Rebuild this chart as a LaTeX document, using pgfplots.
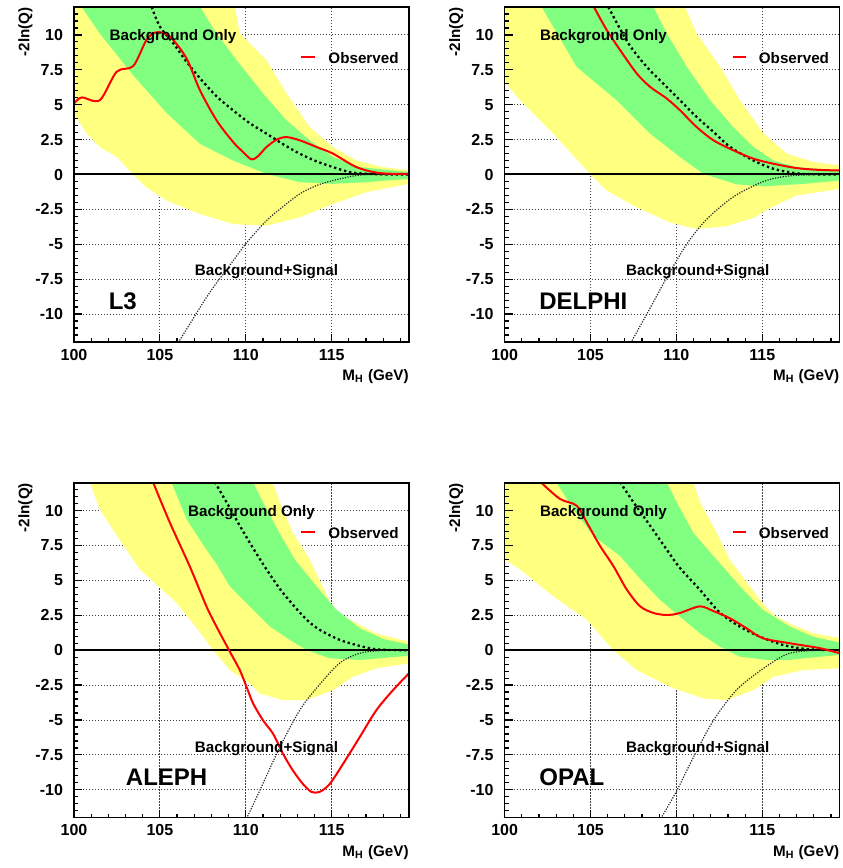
\documentclass[border=0pt]{standalone}
\usepackage{fontspec}
\setmainfont{Liberation Sans}
\usepackage{pgfplots}
\pgfplotsset{compat=1.18}
\definecolor{bandone}{RGB}{128,255,128}
\definecolor{bandtwo}{RGB}{255,255,128}
\definecolor{obsred}{RGB}{255,0,0}
\newcommand\tfont{\fontsize{7.6}{9}\selectfont\bfseries}
\newcommand\kfont{\fontsize{8}{9.5}\selectfont\bfseries}
\newcommand\efont{\fontsize{12}{14}\selectfont\bfseries}
\tikzset{gridst/.style={black!75, line width=0.45pt, dash pattern=on 0.6pt off 0.9pt}}
\newcommand\lepgrid{%
 \pgfplotsinvokeforeach{105,110,115}{\draw[gridst] (axis cs:##1,-12) -- (axis cs:##1,12);}%
 \pgfplotsinvokeforeach{-10,-7.5,-5,-2.5,2.5,5,7.5,10}{\draw[gridst] (axis cs:100,##1) -- (axis cs:119.5,##1);}%
}
\pgfplotsset{
 lep/.style={
  scale only axis, width=167.5pt, height=167.5pt,
  xmin=100, xmax=119.5, ymin=-12, ymax=12,
  xtick={100,105,110,115}, xticklabels={100,105,110,115},
  ytick={-10,-7.5,-5,-2.5,0,2.5,5,7.5,10},
  yticklabels={-10,-7.5,-5,-2.5,0,2.5,5,7.5,10},
  minor xtick={100,...,119},
  minor ytick={-12,-11.5,...,12},
  tick align=inside, tick pos=left,
  major tick length=4pt, minor tick length=2pt,
  tick style={black, line width=0.6pt},
  axis on top,
  axis line style={line width=0.8pt},
  tick label style={font=\kfont},
  yticklabel style={xshift=-2pt},
 },
 ybandst/.style={fill=bandtwo, draw=none},
 gbandst/.style={fill=bandone, draw=none},
 bexp/.style={black, line width=1.15pt, line cap=butt, dash pattern=on 1.15pt off 1.45pt, smooth},
 sbexp/.style={black!85, line width=0.6pt, line cap=butt, dash pattern=on 0.6pt off 0.7pt, smooth},
 obs/.style={obsred, line width=1pt, smooth, tension=0.5},
 zline/.style={black, line width=1pt},
}
\begin{document}
\begin{tikzpicture}
\path[use as bounding box] (0,0) rectangle (421pt,434pt);

%================ L3 =================
\begin{axis}[lep, name=lthree, at={(37pt,263pt)}, anchor=south west]
\lepgrid
\addplot[ybandst] coordinates {(100,13) (109.36,13) (109.36,12) (109.65,10.1) (111.2,8.2) (112.37,5.8) (113.72,3.4) (115.08,1.96) (116.44,1.0) (117.98,0.53) (119.5,0.3)
 (119.5,-0.67) (117.0,-1.27) (115.08,-2.11) (113.14,-3.07) (111.2,-3.67) (109.26,-3.55) (107.33,-2.83) (105.4,-1.87) (104.2,-0.91) (103.45,0) (102.5,1.25) (101.5,1.97) (100.74,2.93) (100,4.36)} --cycle;
\addplot[gbandst] coordinates {(107.33,13) (107.33,12) (108.3,10.1) (109.46,8.2) (111.0,5.8) (112.37,3.88) (113.72,2.45) (115.08,1.25) (116.63,0.53) (119.5,0.17)
 (119.5,-0.31) (117.0,-0.55) (115.08,-0.67) (113.14,-0.55) (111.2,0.05) (109.26,1.0) (107.33,2.2) (105.4,4.4) (103.45,7.1) (101.5,10.1) (100.45,12) (100.45,13)} --cycle;
\addplot[zline] coordinates {(100,0) (119.5,0)};
\addplot[bexp] coordinates {(104.52,12.0) (105.0,10.6) (105.78,9.4) (106.55,8.08) (107.33,6.9) (108.3,5.6) (109.26,4.6) (110.2,3.7) (111.2,2.93) (112.2,2.15) (113.14,1.49) (114.1,0.95) (115.08,0.53) (115.8,0.25) (116.44,0.1) (117.98,0.01) (119.5,0)};
\addplot[sbexp] coordinates {(106.07,-12.05) (107.33,-9.54) (108.1,-8.1) (109.26,-6.19) (110.04,-4.9) (111.2,-3.31) (112.17,-2.3) (113.14,-1.39) (114.1,-0.8) (115.08,-0.43) (116.44,-0.07) (117.5,0) (119.5,0)};
\addplot[obs] coordinates {(100,5.08) (100.45,5.52) (101.5,5.32) (102.48,7.36) (103.45,7.77) (104.22,9.64) (104.8,10.19) (105.58,9.88) (106.55,8.32) (107.33,6.04) (108.3,3.88) (109.26,2.33) (109.85,1.6) (110.33,1.08) (110.7,1.3) (111.2,1.96) (111.8,2.5) (112.37,2.68) (113.14,2.45) (114.1,1.98) (115.08,1.49) (116.44,0.53) (117.79,0.1) (119.5,0.04)};
\addplot[obsred, line width=1pt] coordinates {(113.24,8.4) (114.0,8.4)};
\node[font=\tfont, anchor=base west, inner sep=0pt] at (axis cs:114.79,7.96) {Observed};
\node[font=\tfont, anchor=base, inner sep=0pt] at (axis cs:105.76,9.62) {Background Only};
\node[font=\tfont, anchor=base, inner sep=0pt] at (axis cs:111.2,-7.27) {Background+Signal};
\node[font=\efont, anchor=base west, inner sep=0pt] at (axis cs:102.0,-9.66) {L3};
\end{axis}
\node[rotate=90, anchor=south east, inner sep=0pt, font=\tfont] at ([xshift=-20.5pt]lthree.north west) {-2ln(Q)};
\node[anchor=north east, inner sep=0pt, font=\tfont] at ([yshift=-13.5pt]lthree.south east) {M\textsubscript{H} (GeV)};

%================ DELPHI =================
\begin{axis}[lep, name=delphi, at={(252.3pt,263pt)}, anchor=south west]
\lepgrid
\addplot[ybandst] coordinates {(100,13) (110.5,13) (110.5,12) (111.18,10.1) (112.54,7.72) (113.7,5.32) (115.07,2.93) (116.43,1.49) (117.98,0.89) (119.5,0.65)
 (119.5,-1.03) (117.0,-1.5) (115.46,-2.4) (114.49,-3.1) (112.93,-3.7) (111.18,-3.91) (109.63,-3.43) (107.69,-2.35) (105.94,-1.15) (104.97,0.05) (102.83,2.93) (100.9,5.32) (100,6.64)} --cycle;
\addplot[gbandst] coordinates {(108.66,13) (108.66,12) (109.44,10.1) (110.6,7.72) (111.96,5.32) (113.3,3.4) (114.49,1.97) (115.65,1.0) (117.0,0.53) (119.5,0.29)
 (119.5,-0.43) (117.4,-0.67) (115.07,-0.85) (113.5,-0.7) (111.57,0.05) (110.21,1.25) (108.47,2.93) (106.52,5.32) (104.19,7.72) (102.16,12) (102.16,13)} --cycle;
\addplot[zline] coordinates {(100,0) (119.5,0)};
\addplot[bexp] coordinates {(106.04,12.0) (107.2,9.4) (108.27,7.72) (109.24,6.52) (110.21,5.32) (111.18,4.12) (112.16,3.05) (113.13,1.97) (114.49,1.0) (115.65,0.41) (117.0,0.08) (118.2,0.01) (119.5,0)};
\addplot[sbexp] coordinates {(107.34,-12.06) (108.27,-10.02) (109.44,-7.39) (110.6,-4.99) (111.77,-3.2) (113.32,-1.6) (115.07,-0.5) (116.43,-0.12) (117.98,-0.01) (119.5,0)};
\addplot[obs] coordinates {(105.2,12) (105.94,10.36) (106.72,8.92) (107.69,7.24) (108.47,6.28) (109.44,5.44) (110.21,4.6) (111.18,3.4) (112.16,2.45) (113.32,1.73) (114.49,1.13) (115.65,0.77) (117.0,0.46) (118.3,0.33) (119.5,0.29)};
\addplot[obsred, line width=1pt] coordinates {(113.28,8.4) (114.06,8.4)};
\node[font=\tfont, anchor=base west, inner sep=0pt] at (axis cs:114.78,7.96) {Observed};
\node[font=\tfont, anchor=base, inner sep=0pt] at (axis cs:105.75,9.62) {Background Only};
\node[font=\tfont, anchor=base, inner sep=0pt] at (axis cs:111.24,-7.27) {Background+Signal};
\node[font=\efont, anchor=base west, inner sep=0pt] at (axis cs:102.0,-9.66) {DELPHI};
\end{axis}
\node[rotate=90, anchor=south east, inner sep=0pt, font=\tfont] at ([xshift=-20.5pt]delphi.north west) {-2ln(Q)};
\node[anchor=north east, inner sep=0pt, font=\tfont] at ([yshift=-13.5pt]delphi.south east) {M\textsubscript{H} (GeV)};

%================ ALEPH =================
\begin{axis}[lep, name=aleph, at={(37pt,25.15pt)}, anchor=south west]
\lepgrid
\addplot[ybandst] coordinates {(100.93,13) (111.59,13) (111.59,12) (111.98,10.6) (112.75,8.4) (113.72,6.5) (115.0,3.2) (115.76,2.4) (116.63,1.8) (117.6,1.2) (119.5,0.6)
 (119.5,-0.94) (117.6,-1.3) (116.24,-1.9) (115.08,-2.86) (113.53,-3.58) (112.17,-3.58) (110.81,-3.1) (110.23,-2.38) (109.07,-1.42) (108.1,0) (107.52,0.99) (105.97,3.39) (103.84,5.79) (102.5,8.2) (101.5,10.1) (100.93,12)} --cycle;
\addplot[gbandst] coordinates {(110.43,13) (110.43,12) (111.0,10.6) (112.0,8.3) (112.85,6.5) (114.11,4.58) (115.27,2.9) (116.63,1.58) (118,0.8) (119.5,0.4)
 (119.5,-0.4) (116.63,-0.7) (114.88,-0.58) (113.53,0.02) (112.56,0.74) (111.4,1.70) (110.23,3.14) (109.07,4.58) (108.29,6.2) (107.71,7.2) (106.94,8.65) (106.55,9.4) (105.68,12) (105.68,13)} --cycle;
\addplot[zline] coordinates {(100,0) (119.5,0)};
\addplot[bexp] coordinates {(108.2,12.04) (108.88,10.6) (109.65,8.92) (110.43,7.3) (111.2,5.8) (111.98,4.4) (112.75,3.25) (113.53,2.2) (114.3,1.46) (115.47,0.74) (116.63,0.31) (117.6,0.06) (118.6,0.01) (119.5,0)};
\addplot[sbexp] coordinates {(110.04,-12.07) (110.81,-10.07) (111.98,-6.95) (113.14,-4.3) (114.11,-2.73) (115.45,-0.94) (116.63,-0.22) (117.8,-0.03) (119.5,0)};
\addplot[obs] coordinates {(104.6,12.04) (105.58,9.14) (106.74,6.0) (107.71,3.14) (108.29,1.70) (109.07,-0.1) (109.65,-1.42) (110.04,-2.62) (110.43,-3.82) (111.0,-5.02) (111.59,-5.99) (112.17,-7.43) (112.75,-8.63) (113.33,-9.59) (113.82,-10.15) (114.3,-10.15) (114.88,-9.59) (115.66,-8.15) (116.63,-6.23) (117.6,-4.3) (118.57,-2.86) (119.5,-1.66)};
\addplot[obsred, line width=1pt] coordinates {(113.24,8.44) (114.0,8.44)};
\node[font=\tfont, anchor=base west, inner sep=0pt] at (axis cs:114.79,8.03) {Observed};
\node[font=\tfont, anchor=base, inner sep=0pt] at (axis cs:110.33,9.59) {Background Only};
\node[font=\tfont, anchor=base, inner sep=0pt] at (axis cs:111.2,-7.31) {Background+Signal};
\node[font=\efont, anchor=base west, inner sep=0pt] at (axis cs:103.0,-9.71) {ALEPH};
\end{axis}
\node[rotate=90, anchor=south east, inner sep=0pt, font=\tfont] at ([xshift=-20.5pt]aleph.north west) {-2ln(Q)};
\node[anchor=north east, inner sep=0pt, font=\tfont] at ([yshift=-13.5pt]aleph.south east) {M\textsubscript{H} (GeV)};

%================ OPAL =================
\begin{axis}[lep, name=opal, at={(252.3pt,25.15pt)}, anchor=south west]
\lepgrid
\addplot[ybandst] coordinates {(100,13) (110.99,13) (110.99,12) (111.38,10.6) (112.35,8.4) (113.1,6.5) (115.0,3.38) (115.7,2.5) (116.6,1.9) (118,1.2) (119.5,0.87)
 (119.5,-1.3) (117.4,-1.42) (115.65,-1.9) (114.49,-2.86) (112.93,-3.58) (111.57,-3.46) (109.63,-2.62) (107.69,-1.42) (106.33,0) (104.78,2.19) (102.83,3.87) (100.9,5.79) (100,6.51)} --cycle;
\addplot[gbandst] coordinates {(109.44,13) (109.44,12) (110.02,10.6) (110.99,8.4) (112.33,6.5) (113.87,4.34) (115.03,2.9) (116.59,1.7) (118,0.95) (119.5,0.55)
 (119.5,-0.34) (117.4,-0.58) (116.59,-0.7) (115.26,-0.7) (113.68,-0.46) (112.52,0.26) (111.36,1.22) (110.19,2.42) (109.03,3.62) (107.9,5.1) (106.72,6.75) (105.17,8.2) (104.0,10.1) (103.03,12) (103.03,13)} --cycle;
\addplot[zline] coordinates {(100,0) (119.5,0)};
\addplot[bexp] coordinates {(106.72,12.04) (107.5,10.6) (108.47,8.92) (109.44,7.2) (110.2,5.9) (111.36,4.34) (112.52,2.7) (113.68,1.7) (114.84,0.98) (116.2,0.38) (117.4,0.1) (118.4,0.02) (119.5,0)};
\addplot[sbexp] coordinates {(109.09,-12.07) (110.02,-10.07) (110.99,-7.67) (112.16,-5.02) (113.49,-2.86) (114.84,-1.5) (116.0,-0.55) (116.59,-0.22) (117.4,-0.06) (118.4,0) (119.5,0)};
\addplot[obs] coordinates {(102.1,12.04) (103.22,10.84) (104.19,10.36) (104.78,9.16) (105.55,7.48) (106.33,6.03) (107.11,4.35) (107.88,3.15) (108.66,2.67) (109.44,2.52) (110.19,2.66) (111.36,3.14) (112.16,2.8) (113.1,2.3) (114.07,1.58) (115.03,0.86) (116.59,0.5) (118.37,0.14) (119.5,-0.22)};
\addplot[obsred, line width=1pt] coordinates {(113.28,8.44) (114.06,8.44)};
\node[font=\tfont, anchor=base west, inner sep=0pt] at (axis cs:114.78,8.03) {Observed};
\node[font=\tfont, anchor=base, inner sep=0pt] at (axis cs:105.75,9.59) {Background Only};
\node[font=\tfont, anchor=base, inner sep=0pt] at (axis cs:111.24,-7.31) {Background+Signal};
\node[font=\efont, anchor=base west, inner sep=0pt] at (axis cs:102.0,-9.71) {OPAL};
\end{axis}
\node[rotate=90, anchor=south east, inner sep=0pt, font=\tfont] at ([xshift=-20.5pt]opal.north west) {-2ln(Q)};
\node[anchor=north east, inner sep=0pt, font=\tfont] at ([yshift=-13.5pt]opal.south east) {M\textsubscript{H} (GeV)};
\end{tikzpicture}
\end{document}
